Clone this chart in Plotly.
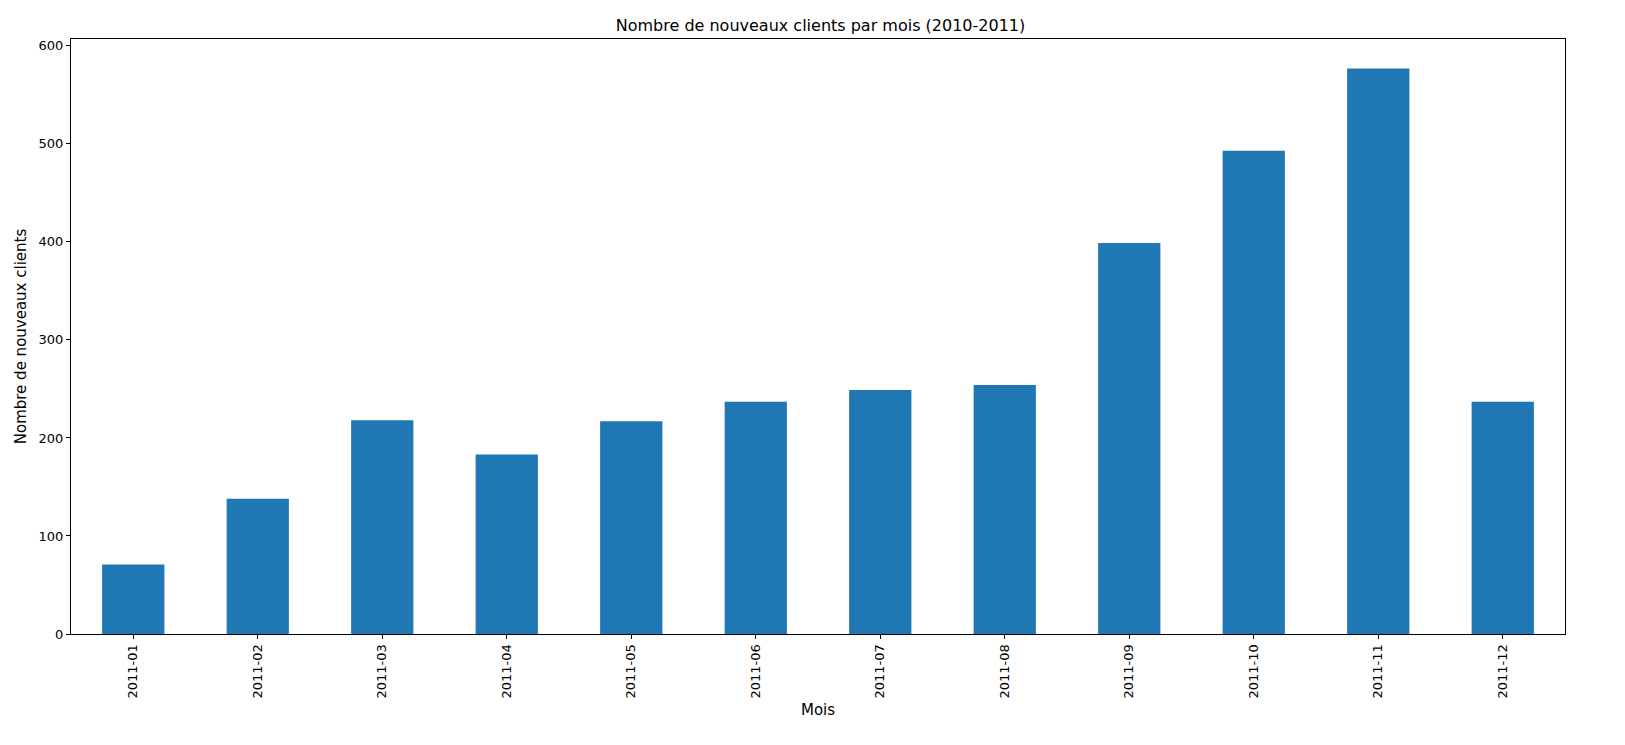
import plotly.graph_objects as go

months = ["2011-01","2011-02","2011-03","2011-04","2011-05","2011-06",
          "2011-07","2011-08","2011-09","2011-10","2011-11","2011-12"]
new_clients = [71, 138, 218, 183, 217, 237, 249, 254, 399, 493, 577, 237]

fig = go.Figure(go.Bar(x=months, y=new_clients, width=0.5, marker_color="#1f77b4",
                       marker_line_width=0))
axis = dict(showline=True, linecolor="black", linewidth=1, mirror=True, ticks="outside",
            ticklen=4, tickcolor="black", showgrid=False, zeroline=False,
            tickfont=dict(size=13, color="black"))
fig.update_layout(
    width=1625, height=745, plot_bgcolor="white", paper_bgcolor="white",
    font=dict(family="DejaVu Sans", color="black", size=12.5),
    margin=dict(l=63, r=68, t=31, b=119),
    title=dict(text="Nombre de nouveaux clients par mois (2010-2011)", x=0.5, xanchor="center",
               y=1-17/745, yanchor="middle", font=dict(size=16)),
    xaxis=dict(axis, tickangle=-90, range=[-0.5, 11.5], type="category",
               title=dict(text="Mois", standoff=6)),
    yaxis=dict(axis, range=[0, 607], dtick=100, title=dict(text="Nombre de nouveaux clients", standoff=8)),
    bargap=0.5,
)
fig.write_html("out.html")
